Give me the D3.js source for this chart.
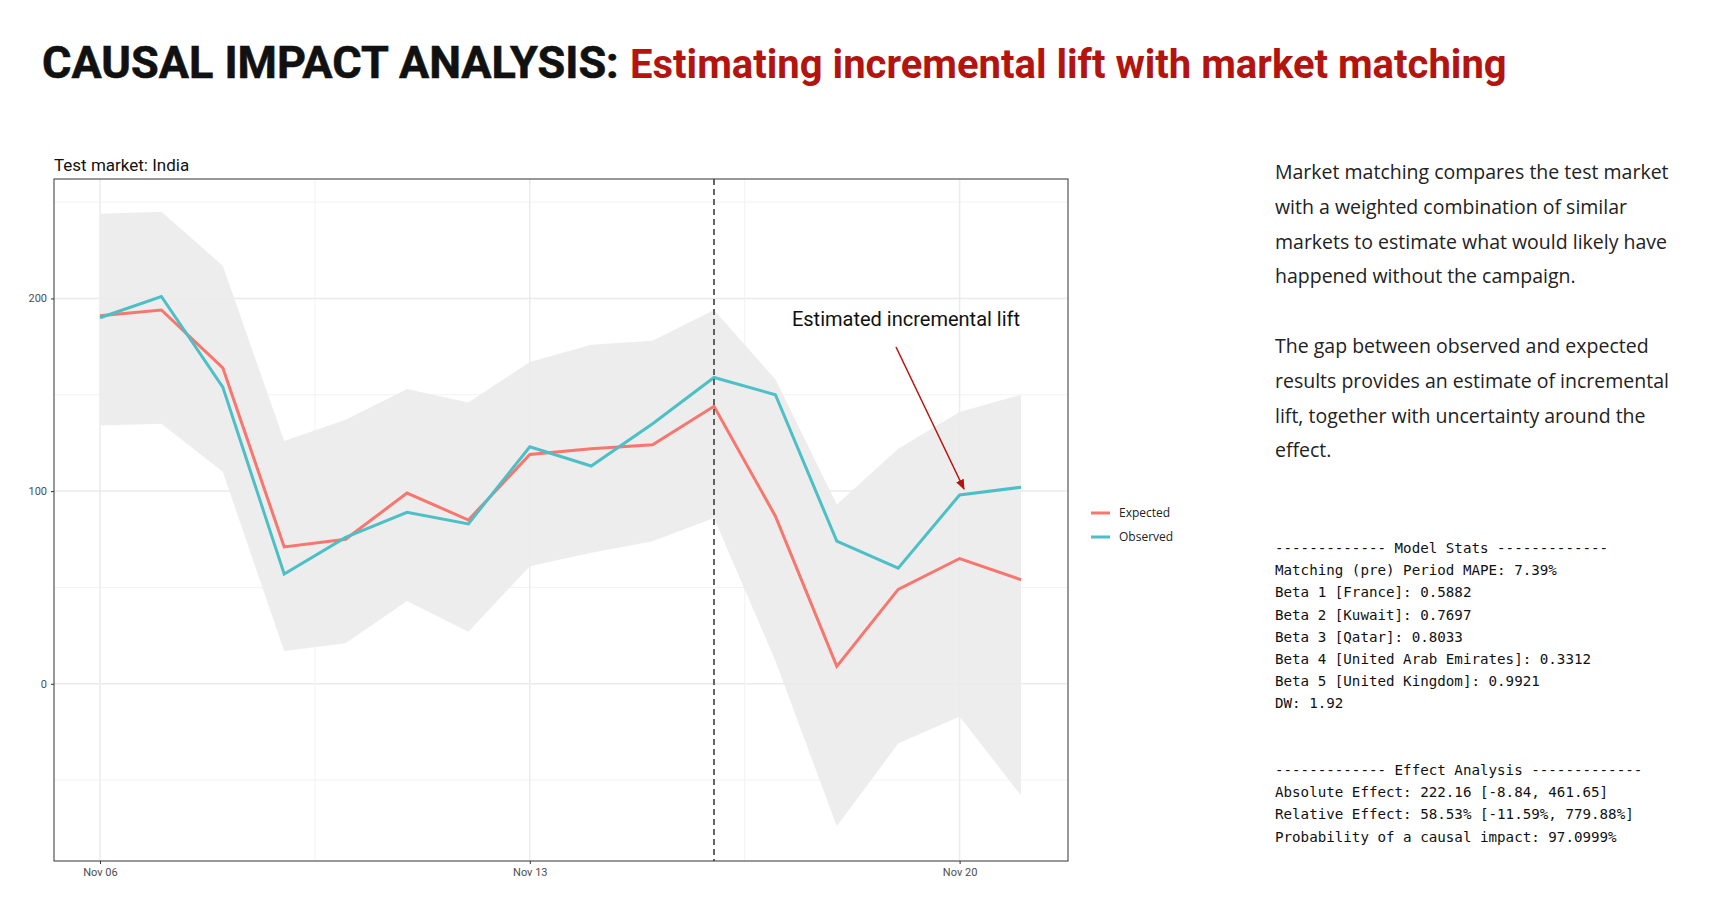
<!DOCTYPE html>
<html><head><meta charset="utf-8">
<script src="https://cdn.jsdelivr.net/npm/d3@7"></script>
<style>body{margin:0;background:#fff}</style></head>
<body><svg id="c" width="1724" height="912"></svg>
<script>
const dates = ["2023-11-06","2023-11-07","2023-11-08","2023-11-09","2023-11-10","2023-11-11","2023-11-12","2023-11-13","2023-11-14","2023-11-15","2023-11-16","2023-11-17","2023-11-18","2023-11-19","2023-11-20","2023-11-21"];
const expected = [191,194,164,71,75,99,85,119,122,124,144,87,9,49,65,54];
const observed = [190,201,154,57,76,89,83,123,113,135,159,150,74,60,98,102];
const bandUpper = [244,245,217,126,137,153,146,167,176,178,194,158,93,122,141,150];
const bandLower = [134,135,110,17,21,43,27,61,68,74,86,12,-74,-31,-17,-58];
const yTicks = [0,100,200];
const yMinor = [-50,50,150,250];
const xTicks = ["2023-11-06","2023-11-13","2023-11-20"];
const intervention = "2023-11-16";
const paraLines = ["Market matching compares the test market","with a weighted combination of similar","markets to estimate what would likely have","happened without the campaign.","","The gap between observed and expected","results provides an estimate of incremental","lift, together with uncertainty around the","effect."];
const statsLines = ["------------- Model Stats -------------","Matching (pre) Period MAPE: 7.39%","Beta 1 [France]: 0.5882","Beta 2 [Kuwait]: 0.7697","Beta 3 [Qatar]: 0.8033","Beta 4 [United Arab Emirates]: 0.3312","Beta 5 [United Kingdom]: 0.9921","DW: 1.92"];
const effectLines = ["------------- Effect Analysis -------------","Absolute Effect: 222.16 [-8.84, 461.65]","Relative Effect: 58.53% [-11.59%, 779.88%]","Probability of a causal impact: 97.0999%"];

const parse = d3.timeParse("%Y-%m-%d");
const fmt = d3.timeFormat("%b %d");
const svg = d3.select("#c");
const L=54,R=1068,T=179,B=861;
const x = d3.scaleTime().domain([parse("2023-11-05T00"==0?"":"2023-11-06"), parse("2023-11-21")]).range([100,1021]);
// extend domain to panel edges
const x0 = x.invert(L), x1 = x.invert(R);
const xs = d3.scaleTime().domain([x0,x1]).range([L,R]);
const y = d3.scaleLinear().domain([-92,262]).range([B,T]);

// title
const t = svg.append("text").attr("x",42).attr("y",78).attr("font-family","Roboto, sans-serif").attr("font-weight","bold").attr("font-size",45);
t.append("tspan").attr("fill","#111").attr("stroke","#111").attr("stroke-width",0.6).text("CAUSAL IMPACT ANALYSIS: ");
t.append("tspan").attr("fill","#b3140f").attr("font-size",40).text("Estimating incremental lift with market matching");

svg.append("text").attr("x",54).attr("y",171).attr("font-family","Roboto, sans-serif").attr("font-size",17).attr("fill","#111").text("Test market: India");

const g = svg.append("g");
g.append("rect").attr("x",L).attr("y",T).attr("width",R-L).attr("height",B-T).attr("fill","#fff");
// grid
yMinor.forEach(v=>g.append("line").attr("x1",L).attr("x2",R).attr("y1",y(v)).attr("y2",y(v)).attr("stroke","#f2f2f2").attr("stroke-width",1));
yTicks.forEach(v=>g.append("line").attr("x1",L).attr("x2",R).attr("y1",y(v)).attr("y2",y(v)).attr("stroke","#ebebeb").attr("stroke-width",1.5));
const xMinor = ["2023-11-09T12","2023-11-16T12"].map(s=>d3.timeParse("%Y-%m-%dT%H")(s));
xMinor.forEach(d=>g.append("line").attr("x1",xs(d)).attr("x2",xs(d)).attr("y1",T).attr("y2",B).attr("stroke","#f2f2f2"));
xTicks.forEach(s=>g.append("line").attr("x1",xs(parse(s))).attr("x2",xs(parse(s))).attr("y1",T).attr("y2",B).attr("stroke","#ebebeb").attr("stroke-width",1.5));

const idx = d3.range(dates.length);
g.append("path").datum(idx).attr("fill","#ebebeb").attr("opacity",0.9)
 .attr("d",d3.area().x(i=>xs(parse(dates[i]))).y0(i=>y(bandLower[i])).y1(i=>y(bandUpper[i])));
const line = arr => d3.line().x(i=>xs(parse(dates[i]))).y(i=>y(arr[i]))(idx);
g.append("path").attr("d",line(expected)).attr("fill","none").attr("stroke","#f8766d").attr("stroke-width",3);
g.append("path").attr("d",line(observed)).attr("fill","none").attr("stroke","#4dbfc6").attr("stroke-width",3);
g.append("line").attr("x1",xs(parse(intervention))).attr("x2",xs(parse(intervention))).attr("y1",T).attr("y2",B).attr("stroke","#333").attr("stroke-width",1.5).attr("stroke-dasharray","6,4");
g.append("rect").attr("x",L).attr("y",T).attr("width",R-L).attr("height",B-T).attr("fill","none").attr("stroke","#333").attr("stroke-width",1);

// axes
const ya = svg.append("g").attr("transform",`translate(${L},0)`).call(d3.axisLeft(y).tickValues(yTicks).tickSize(3).tickPadding(4));
const xa = svg.append("g").attr("transform",`translate(0,${B})`).call(d3.axisBottom(xs).tickValues(xTicks.map(parse)).tickFormat(fmt).tickSize(3).tickPadding(4));
[ya,xa].forEach(a=>{a.select(".domain").remove();a.selectAll("line").attr("stroke","#333");a.selectAll("text").attr("font-family","Roboto, sans-serif").attr("font-size",11).attr("fill","#4d4d4d");});

// annotation
svg.append("text").attr("x",906).attr("y",326).attr("text-anchor","middle").attr("font-family","Roboto, sans-serif").attr("font-size",20).attr("fill","#111").text("Estimated incremental lift");
svg.append("defs").append("marker").attr("id","ah").attr("viewBox","0 0 10 10").attr("refX",9).attr("refY",5).attr("markerWidth",7).attr("markerHeight",7).attr("orient","auto")
 .append("path").attr("d","M0,1L10,5L0,9z").attr("fill","#b3140f");
svg.append("line").attr("x1",896).attr("y1",347).attr("x2",964).attr("y2",489).attr("stroke","#b3140f").attr("stroke-width",1.5).attr("marker-end","url(#ah)");

// legend
[["Expected","#f8766d"],["Observed","#4dbfc6"]].forEach((d,i)=>{
 const yy=513+i*24;
 svg.append("line").attr("x1",1091).attr("x2",1110).attr("y1",yy).attr("y2",yy).attr("stroke",d[1]).attr("stroke-width",3);
 svg.append("text").attr("x",1119).attr("y",yy+4).attr("font-family","'Open Sans', sans-serif").attr("font-size",12).attr("fill","#222").text(d[0]);
});

// right text
paraLines.forEach((s,i)=>svg.append("text").attr("x",1275).attr("y",179+i*34.8).attr("font-family","'Open Sans', sans-serif").attr("font-size",19.5).attr("fill","#222").text(s));
statsLines.forEach((s,i)=>svg.append("text").attr("x",1275).attr("y",553+i*22.2).attr("font-family","'DejaVu Sans Mono', monospace").attr("font-size",14.2).attr("fill","#111").attr("xml:space","preserve").text(s));
effectLines.forEach((s,i)=>svg.append("text").attr("x",1275).attr("y",775+i*22.2).attr("font-family","'DejaVu Sans Mono', monospace").attr("font-size",14.2).attr("fill","#111").attr("xml:space","preserve").text(s));
</script></body></html>
